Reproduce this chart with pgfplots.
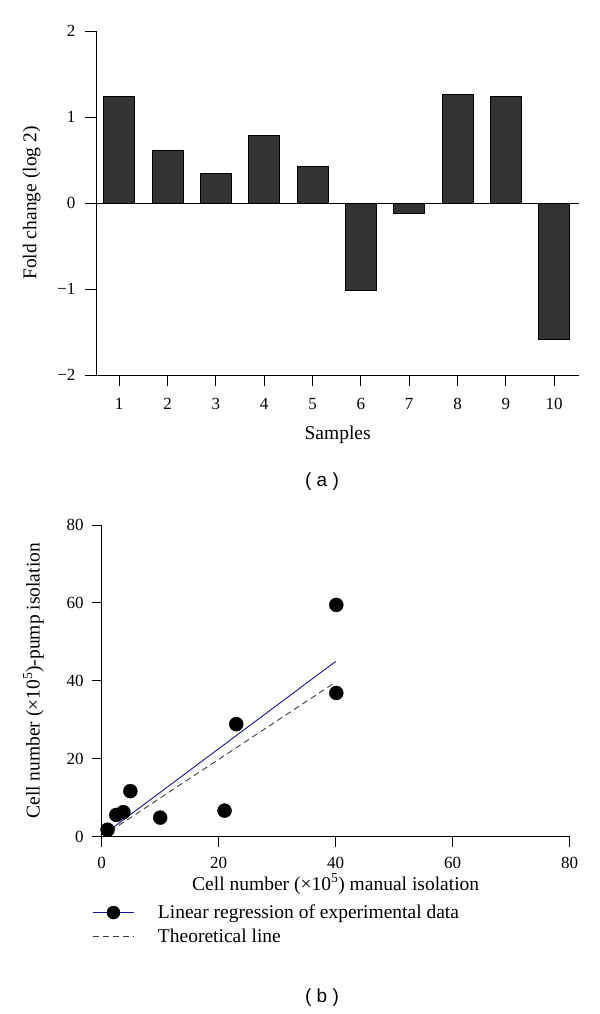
\documentclass[border=0pt]{standalone}
\usepackage{fontspec}
\setmainfont{Liberation Serif}
\newfontfamily\capfont{Liberation Sans}
\usepackage{pgfplots}
\pgfplotsset{compat=1.18}
\definecolor{barfill}{RGB}{51,51,51}
\definecolor{regblue}{RGB}{20,20,150}
\definecolor{theogray}{RGB}{60,60,60}
\begin{document}
\begin{tikzpicture}[x=1bp,y=1bp]
\path[use as bounding box] (0,0) rectangle (600,-1014);
% ---------------- (a) ----------------
\begin{axis}[
  at={(96bp,-375bp)}, anchor=south west,
  scale only axis, width=483.3bp, height=344bp,
  xmin=0.52, xmax=10.52, ymin=-2, ymax=2,
  axis lines=left, axis line style={-, line width=0.9bp},
  ybar, bar width=31bp,
  xtick={1,...,10},
  ytick={-2,-1,0,1,2},
  yticklabels={−2,−1,0,1,2},
  tick align=outside, major tick length=11bp,
  tick style={black, line width=0.9bp},
  font=\fontsize{17bp}{20bp}\selectfont,
  /pgf/number format/assume math mode=true,
  xticklabel style={yshift=-9bp},
  yticklabel style={xshift=-6bp},
  xlabel={Samples},
  ylabel={Fold change (log 2)},
  label style={font=\fontsize{19.5bp}{23bp}\selectfont},
  xlabel style={at={(axis description cs:0.5,-0.174)}, anchor=center},
  ylabel style={at={(axis description cs:-0.133,0.5)}, anchor=center},
]
\addplot[fill=barfill, draw=black, line width=0.6bp] coordinates {
 (1,1.24) (2,0.61) (3,0.34) (4,0.79) (5,0.43)
 (6,-1.02) (7,-0.12) (8,1.26) (9,1.24) (10,-1.58)};
\draw[black, line width=0.9bp] ({rel axis cs:0,0}|-{axis cs:1,0}) -- ({rel axis cs:1,0}|-{axis cs:1,0});
\end{axis}
\node[font=\capfont\fontsize{19bp}{22bp}\selectfont] at (322,-481.7) {( a )};
% ---------------- (b) ----------------
\begin{axis}[
  at={(101.7bp,-836.7bp)}, anchor=south west,
  scale only axis, width=468bp, height=311.7bp,
  xmin=0, xmax=80, ymin=0, ymax=80,
  clip=false,
  axis lines=left, axis line style={-, line width=0.9bp},
  xtick={0,20,...,80}, ytick={0,20,...,80},
  tick align=outside, major tick length=10bp,
  tick style={black, line width=0.9bp},
  font=\fontsize{17bp}{20bp}\selectfont,
  /pgf/number format/assume math mode=true,
  xticklabel style={yshift=-7bp},
  yticklabel style={xshift=-4.5bp},
  xlabel={Cell number (×10\textsuperscript{5}) manual isolation},
  ylabel={Cell number (×10\textsuperscript{5})-pump isolation},
  label style={font=\fontsize{19.5bp}{23bp}\selectfont},
  xlabel style={at={(axis description cs:0.5,-0.152)}, anchor=center},
  ylabel style={at={(axis description cs:-0.146,0.5)}, anchor=center},
  legend style={at={(axis description cs:-0.020,-0.215)}, anchor=north west,
    draw=none, fill=none, row sep=7bp, inner sep=0pt,
    nodes={inner sep=1bp, anchor=west},
    font=\fontsize{19.5bp}{23bp}\selectfont},
  legend cell align=left,
]
\addplot[regblue, line width=0.9bp, forget plot] coordinates {(1,1.3) (40,45.0)};
\addplot[theogray, line width=0.9bp, dash pattern=on 6bp off 4bp, forget plot] coordinates {(1.5,1.5) (40,39.7)};
\addplot[only marks, mark=*, mark size=7bp, mark options={fill=black, draw=black}, forget plot] coordinates {
 (1.0,1.8) (2.5,5.6) (3.7,6.3) (4.9,11.7) (10.0,4.9)
 (21.0,6.7) (23.0,28.9) (40.1,59.5) (40.1,36.9)};
\addlegendimage{legend image code/.code={
   \draw[regblue, line width=0.9bp] (0bp,0bp) -- (41bp,0bp);
   \fill[black] (20.5bp,0bp) circle (6.5bp);
   \path[draw=none] (0bp,0bp) -- (64bp,0bp);}}
\addlegendentry{Linear regression of experimental data}
\addlegendimage{legend image code/.code={
   \draw[theogray, line width=0.9bp, dash pattern=on 6bp off 4bp] (0bp,0bp) -- (41bp,0bp);
   \path[draw=none] (0bp,0bp) -- (64bp,0bp);}}
\addlegendentry{Theoretical line}
\end{axis}
\node[font=\capfont\fontsize{19bp}{22bp}\selectfont] at (322,-998) {( b )};
\end{tikzpicture}
\end{document}
